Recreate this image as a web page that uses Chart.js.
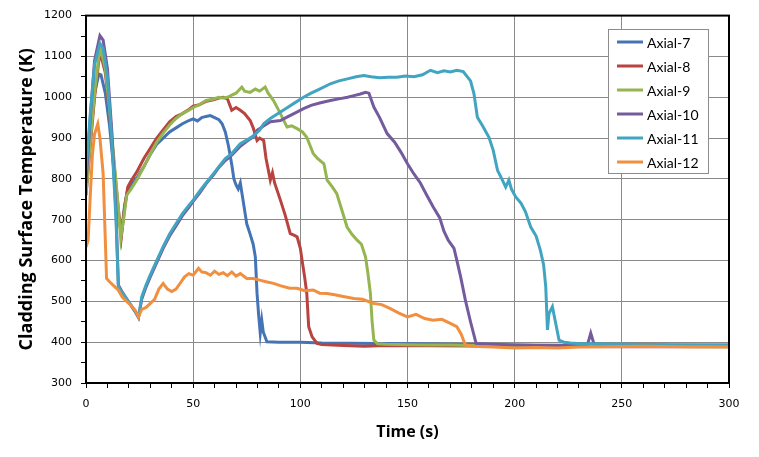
<!DOCTYPE html>
<html>
<head>
<meta charset="utf-8">
<script src="https://cdn.jsdelivr.net/npm/chart.js@4.4.1/dist/chart.umd.min.js"></script>
<style>
  html, body { margin: 0; padding: 0; background: #fff; }
  #wrap { width: 759px; height: 457px; }
</style>
</head>
<body>
<div id="wrap"><canvas id="chart" width="759" height="457"></canvas></div>
<script>
// series names and colours
const seriesNames = ["Axial-7", "Axial-8", "Axial-9", "Axial-10", "Axial-11", "Axial-12"];
const seriesColors = ["#4474B6", "#B9433F", "#95B550", "#745B9D", "#41A4C0", "#F28F3F"];

// time (s) / temperature (K)
const axial7Time = [0, 2, 4, 6, 7, 9, 11, 13, 15, 16.5, 18, 19.5, 21, 24, 27, 30, 33, 36, 39, 42, 45, 48, 50, 52, 54, 56, 58, 60, 62, 63.5, 65, 66.5, 68, 69, 70, 71, 72, 73.5, 75, 76.5, 78, 79, 79.8, 80.5, 81.3, 82, 82.7, 84.4, 90, 100, 110, 150, 200, 250, 300];
const axial7Temp = [780, 900, 1010, 1057, 1055, 1010, 930, 820, 720, 665, 735, 775, 785, 805, 830, 860, 885, 900, 915, 925, 935, 943, 947, 942, 950, 953, 955, 950, 945, 935, 915, 880, 835, 800, 785, 775, 790, 740, 690, 666, 640, 609, 520, 470, 422, 454, 425, 401, 400, 400, 398, 396, 393, 392, 392];

const axial8Time = [0, 2, 4, 6, 7, 9, 11, 13, 15, 16.5, 18, 19.5, 21, 24, 27, 30, 33, 36, 39, 42, 45, 48, 50, 53, 56, 59, 62, 64, 66, 68, 70, 72, 74, 76.6, 78, 79.8, 81, 82.9, 84, 86, 87, 88, 90.7, 93, 95.3, 97, 98.5, 100, 100.8, 102, 103, 103.9, 105.5, 107.8, 110, 120, 130, 140, 160, 200, 250, 300];
const axial8Temp = [760, 880, 1000, 1090, 1102, 1060, 960, 840, 730, 658, 730, 780, 795, 820, 850, 875, 900, 920, 940, 953, 960, 970, 978, 982, 990, 993, 998, 1000, 996, 968, 975, 968, 960, 943, 925, 894, 900, 894, 850, 797, 815, 790, 748, 710, 666, 662, 658, 630, 601, 560, 520, 438, 413, 397, 394, 392, 390, 392, 391, 390, 389, 389];

const axial9Time = [0, 2, 4, 6, 7, 9, 11, 13, 15, 16.2, 17.5, 19, 21, 24, 27, 30, 33, 36, 39, 42, 45, 48, 50, 53, 56, 59, 62, 64, 66, 68, 70, 72.7, 74, 76.6, 79, 81, 83.6, 85, 87.5, 90.7, 93.8, 96, 98.5, 101, 103, 106, 108, 111, 112.5, 115, 117, 119, 121.8, 124, 126.5, 128.5, 130.4, 131.5, 132.7, 133.5, 134.3, 136, 140, 150, 160, 170, 180, 200, 250, 300];
const axial9Temp = [760, 890, 1010, 1100, 1115, 1070, 970, 850, 735, 654, 700, 760, 775, 800, 830, 860, 890, 912, 932, 948, 960, 968, 975, 982, 992, 995, 1000, 998, 1000, 1005, 1010, 1025, 1015, 1012, 1020, 1015, 1025, 1010, 992, 960, 927, 930, 923, 915, 902, 862, 850, 837, 797, 780, 764, 730, 682, 665, 650, 640, 609, 570, 519, 450, 405, 396, 395, 394, 393, 393, 392, 391, 390, 389];

const axial10Time = [0, 2, 4, 6.5, 8, 10, 12, 14, 15.1, 17, 19, 21, 23, 24.5, 26, 28, 30, 33, 36, 39, 42, 45, 48, 50, 53, 56, 59.5, 62, 65, 68, 72, 75, 78, 79.8, 83, 86, 90.7, 94, 97, 101.5, 105, 109, 114, 118, 122, 125, 128, 130.4, 132, 134.3, 137, 140.5, 144, 147, 150, 153, 156, 159, 162, 165, 167, 169, 171.7, 173, 174.8, 177, 179.4, 182, 190, 200, 210, 220, 230, 234, 235.5, 237, 240, 260, 300];
const axial10Temp = [790, 950, 1090, 1151, 1140, 1070, 920, 720, 540, 522, 506, 490, 474, 460, 505, 535, 560, 595, 630, 660, 685, 710, 730, 745, 765, 788, 810, 828, 845, 858, 880, 892, 903, 919, 930, 940, 943, 952, 960, 972, 980, 986, 992, 996, 1000, 1004, 1008, 1012, 1010, 976, 950, 911, 890, 865, 837, 812, 790, 760, 731, 705, 672, 650, 630, 601, 560, 503, 450, 397, 395, 393, 392, 392, 393, 394, 422, 396, 394, 393, 392];

const axial11Time = [0, 2, 4, 6.5, 8, 10, 12, 14, 15.1, 17, 19, 21, 23, 24.5, 26, 28, 30, 33, 36, 39, 42, 45, 48, 50, 53, 56, 59.5, 62, 65, 68, 72, 75, 78, 81, 82.9, 86, 90.7, 94, 97, 101.5, 105, 109, 114, 118, 122, 126, 129.6, 133, 137, 141, 145, 149, 153, 157, 160.7, 164, 167, 170, 173, 176, 179.4, 181, 182.6, 185, 188, 190, 192, 194, 195.8, 197.3, 198.5, 200.5, 203, 205, 207.5, 210, 212, 213.5, 214.5, 215.3, 216, 217.6, 219, 220.7, 223, 226, 229.3, 235, 250, 275, 300];
const axial11Temp = [820, 960, 1080, 1132, 1120, 1050, 900, 700, 536, 520, 505, 490, 475, 462, 511, 540, 565, 600, 634, 665, 690, 715, 735, 748, 770, 790, 813, 830, 850, 862, 886, 895, 905, 919, 935, 948, 964, 975, 985, 1000, 1010, 1020, 1033, 1040, 1045, 1050, 1053, 1050, 1048, 1049, 1049, 1052, 1050, 1055, 1066, 1060, 1065, 1062, 1066, 1063, 1040, 1009, 951, 930, 902, 870, 821, 800, 780, 797, 775, 756, 740, 720, 682, 660, 625, 590, 536, 430, 470, 487, 450, 405, 400, 398, 397, 396, 395, 394, 394];

const axial12Time = [0, 1, 2, 3, 4, 5.5, 6.5, 8, 9.6, 11, 13, 15, 17, 19, 21, 23, 24.5, 26, 28, 30, 32, 34, 36, 38, 40, 42, 44, 46, 48, 50, 52.5, 54, 56, 58, 60, 62, 64, 66, 68, 70, 72, 75, 78, 81, 84, 87.5, 91, 95, 98.5, 102, 106, 109, 112.5, 116, 120, 125, 129, 134, 138, 142, 146, 150, 154, 158, 162, 166, 170, 173, 175, 177, 180, 190, 200, 210, 220, 230, 240, 260, 280, 300];
const axial12Temp = [633, 650, 760, 860, 910, 935, 900, 813, 556, 548, 538, 528, 510, 500, 490, 478, 462, 480, 485, 495, 505, 530, 544, 530, 524, 530, 545, 560, 568, 564, 581, 572, 570, 564, 574, 566, 570, 563, 572, 562, 568, 556, 556, 552, 548, 544, 538, 532, 532, 526, 528, 520, 519, 516, 512, 507, 505, 495, 492, 482, 471, 462, 468, 458, 454, 456, 446, 438, 420, 393, 390, 388, 386, 387, 386, 388, 389, 390, 389, 389];

const seriesTimes = [axial7Time, axial8Time, axial9Time, axial10Time, axial11Time, axial12Time];
const seriesTemps = [axial7Temp, axial8Temp, axial9Temp, axial10Temp, axial11Temp, axial12Temp];

const datasets = seriesNames.map((name, i) => ({
  label: name,
  data: seriesTimes[i].map((t, j) => ({ x: t, y: seriesTemps[i][j] })),
  borderColor: seriesColors[i],
  backgroundColor: seriesColors[i],
  borderWidth: 3,
  pointRadius: 0,
  tension: 0,
  order: seriesNames.length - i, // later series on top, like the original
}));

// plot border and legend box drawn inside the plot area
const plotExtras = {
  id: "plotExtras",
  afterDatasetsDraw(chart) {
    const { ctx, chartArea: a } = chart;
    ctx.save();
    ctx.strokeStyle = "#000";
    ctx.lineWidth = 2;
    ctx.strokeRect(a.left, a.top, a.right - a.left, a.bottom - a.top);
    ctx.restore();
  },
  afterDraw(chart) {
    const ctx = chart.ctx;
    const x = 608, y = 29, w = 100, h = 144;
    ctx.save();
    ctx.fillStyle = "#fff";
    ctx.fillRect(x, y, w, h);
    ctx.strokeStyle = "#8c8c8c";
    ctx.lineWidth = 1;
    ctx.strokeRect(x + 0.5, y + 0.5, w, h);
    ctx.font = "14px Lato";
    ctx.textBaseline = "middle";
    chart.data.datasets.forEach((ds, i) => {
      const cy = y + 13 + i * 24;
      ctx.strokeStyle = ds.borderColor;
      ctx.lineWidth = 3;
      ctx.beginPath();
      ctx.moveTo(x + 9, cy);
      ctx.lineTo(x + 35, cy);
      ctx.stroke();
      ctx.fillStyle = "#000";
      ctx.fillText(ds.label, x + 39, cy + 1);
    });
    ctx.restore();
  },
};

new Chart(document.getElementById("chart"), {
  type: "line",
  data: { datasets },
  plugins: [plotExtras],
  options: {
    responsive: false,
    animation: false,
    layout: { padding: { left: 16, right: 30, top: 15, bottom: 15 } },
    plugins: { legend: { display: false }, tooltip: { enabled: false } },
    scales: {
      x: {
        type: "linear",
        min: 0,
        max: 300,
        afterFit: (s) => { s.height = 59; },
        border: { color: "#000", width: 2 },
        grid: {
          color: (c) => (c.tick && c.tick.value % 50 === 0 ? "#8a8a8a" : "rgba(0,0,0,0)"),
          tickColor: "#000",
          tickLength: 5,
        },
        ticks: {
          stepSize: 10,
          autoSkip: false,
          maxRotation: 0,
          padding: 10,
          color: "#000",
          font: { family: "DejaVu Sans", size: 11 },
          callback: (v) => (v % 50 === 0 ? v : ""),
        },
        title: {
          display: true,
          text: "Time (s)",
          color: "#000",
          font: { family: "Open Sans", size: 16, weight: "bold" },
          padding: { top: 6, bottom: 0 },
        },
      },
      y: {
        min: 300,
        max: 1200,
        afterFit: (s) => { s.width = 70; },
        border: { color: "#000", width: 2 },
        grid: {
          color: (c) => (c.tick && c.tick.value % 100 === 0 ? "#8a8a8a" : "rgba(0,0,0,0)"),
          tickColor: "#000",
          tickLength: 5,
        },
        ticks: {
          stepSize: 50,
          autoSkip: false,
          padding: 9,
          color: "#000",
          font: { family: "DejaVu Sans", size: 11 },
          callback: (v) => (v % 100 === 0 ? v : ""),
        },
        title: {
          display: true,
          text: "Cladding Surface Temperature (K)",
          color: "#000",
          font: { family: "Open Sans", size: 18, weight: "bold" },
          padding: { top: 0, bottom: 0 },
        },
      },
    },
  },
});
</script>
</body>
</html>
